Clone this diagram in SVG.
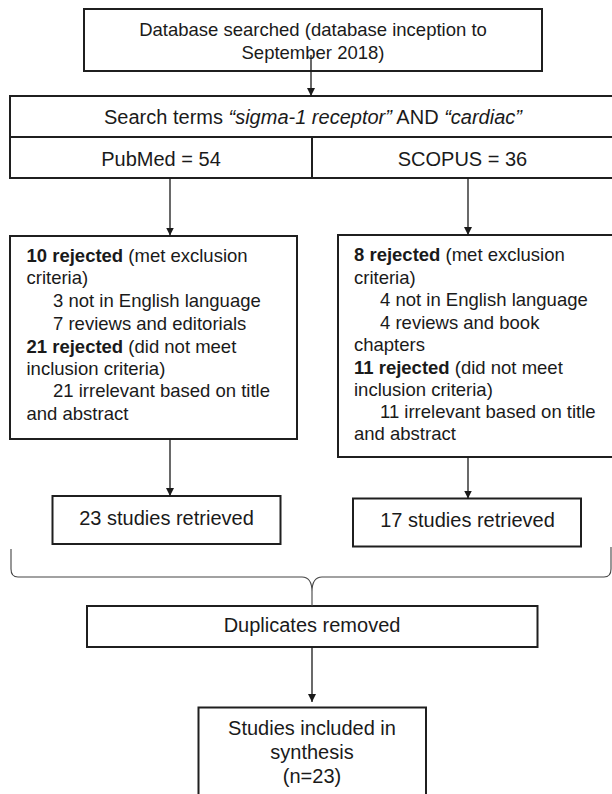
<svg xmlns="http://www.w3.org/2000/svg" width="612" height="794" viewBox="0 0 612 794">
<style>
  .box { fill: #ffffff; stroke: #1f1f1f; stroke-width: 2; }
  .t { font-family: "Liberation Sans", Arial, sans-serif; fill: #1a1a1a; }
  .s18 { font-size: 18.5px; }
  .s20 { font-size: 20px; }
  .c { text-anchor: middle; }
  .b { font-weight: bold; }
  .i { font-style: italic; }
  .conn { stroke: #1a1a1a; stroke-width: 1.3; fill: none; }
  .brace { stroke: #444; stroke-width: 1.1; fill: none; }
</style>
<defs>
  <marker id="arr" markerUnits="userSpaceOnUse" markerWidth="9" markerHeight="9" refX="8" refY="4" orient="auto">
    <path d="M0,0 L8,4 L0,8 z" fill="#1a1a1a"/>
  </marker>
</defs>

<g id="db-searched">
  <rect class="box" x="84" y="9" width="458" height="62"/>
  <text class="t s18 c" x="313" y="36">Database searched (database inception to</text>
  <text class="t s18 c" x="313" y="59">September 2018)</text>
</g>

<g id="search-terms">
  <rect class="box" x="10" y="96" width="604" height="82"/>
  <line x1="10" y1="137" x2="614" y2="137" stroke="#1f1f1f" stroke-width="2"/>
  <line x1="312" y1="137" x2="312" y2="178" stroke="#1f1f1f" stroke-width="2"/>
  <text class="t s20 c" x="313" y="124">Search terms <tspan class="i">“sigma-1 receptor”</tspan> AND <tspan class="i">“cardiac”</tspan></text>
</g>

<g id="pubmed">
  <text class="t s20 c" x="161" y="165.5">PubMed = 54</text>
</g>

<g id="scopus">
  <text class="t s20 c" x="462.5" y="165.5">SCOPUS = 36</text>
</g>

<g id="pubmed-rejected">
  <rect class="box" x="10" y="236" width="287" height="203"/>
  <text class="t s18" x="26.5" y="261.5"><tspan class="b">10 rejected</tspan> (met exclusion</text>
  <text class="t s18" x="26.5" y="284">criteria)</text>
  <text class="t s18" x="53" y="307">3 not in English language</text>
  <text class="t s18" x="53" y="330">7 reviews and editorials</text>
  <text class="t s18" x="26.5" y="352.5"><tspan class="b">21 rejected</tspan> (did not meet</text>
  <text class="t s18" x="26.5" y="375">inclusion criteria)</text>
  <text class="t s18" x="53" y="397">21 irrelevant based on title</text>
  <text class="t s18" x="26.5" y="419.5">and abstract</text>
</g>

<g id="scopus-rejected">
  <rect class="box" x="338" y="235" width="280" height="222"/>
  <text class="t s18" x="354" y="261"><tspan class="b">8 rejected</tspan> (met exclusion</text>
  <text class="t s18" x="354" y="283.5">criteria)</text>
  <text class="t s18" x="380" y="306">4 not in English language</text>
  <text class="t s18" x="380" y="328.5">4 reviews and book</text>
  <text class="t s18" x="354" y="350.5">chapters</text>
  <text class="t s18" x="354" y="373.5"><tspan class="b">11 rejected</tspan> (did not meet</text>
  <text class="t s18" x="354" y="395.5">inclusion criteria)</text>
  <text class="t s18" x="380" y="418">11 irrelevant based on title</text>
  <text class="t s18" x="354" y="440">and abstract</text>
</g>

<g id="pubmed-retrieved">
  <rect class="box" x="52.5" y="496" width="228" height="48"/>
  <text class="t s20 c" x="166.5" y="524.5">23 studies retrieved</text>
</g>

<g id="scopus-retrieved">
  <rect class="box" x="353" y="498.5" width="228" height="48"/>
  <text class="t s20 c" x="467.5" y="527">17 studies retrieved</text>
</g>

<g id="duplicates">
  <rect class="box" x="87" y="606" width="450.5" height="41"/>
  <text class="t s20 c" x="312" y="631.5">Duplicates removed</text>
</g>

<g id="included">
  <rect class="box" x="198.5" y="707.5" width="227.5" height="100"/>
  <text class="t s20 c" x="312" y="735">Studies included in</text>
  <text class="t s20 c" x="312" y="759">synthesis</text>
  <text class="t s20 c" x="312" y="783">(n=23)</text>
</g>

<g id="connectors">
  <line class="conn" x1="311" y1="55" x2="311" y2="96" marker-end="url(#arr)"/>
  <line class="conn" x1="170" y1="178" x2="170" y2="235.5" marker-end="url(#arr)"/>
  <line class="conn" x1="468" y1="178" x2="468" y2="235" marker-end="url(#arr)"/>
  <line class="conn" x1="170" y1="439" x2="170" y2="496" marker-end="url(#arr)"/>
  <line class="conn" x1="468" y1="457" x2="468" y2="498.5" marker-end="url(#arr)"/>
  <path class="brace" d="M11,549 L11,569 Q11,577 18,577 L302,577 Q312,577 312,592 L312,606 M312,592 Q312,577 322,577 L604,577 Q611,577 611,569 L611,547"/>
  <line class="conn" x1="312" y1="647" x2="312" y2="702" marker-end="url(#arr)"/>
</g>
</svg>
